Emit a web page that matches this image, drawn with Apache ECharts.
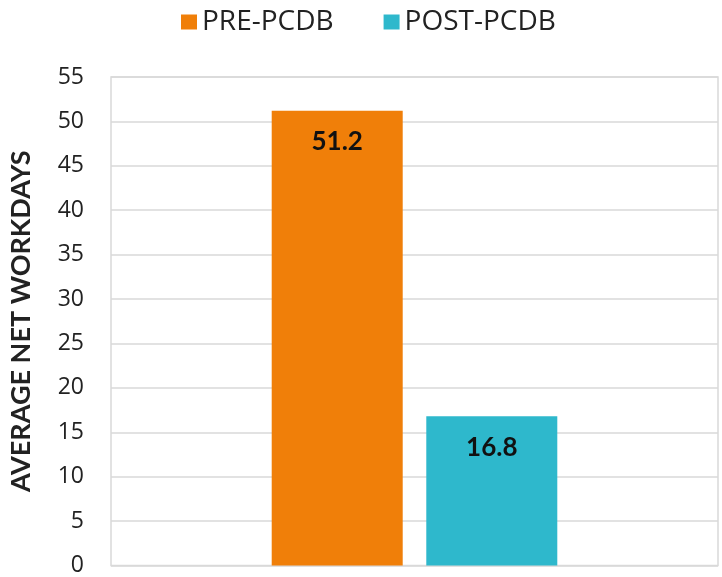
<!DOCTYPE html>
<html><head><meta charset="utf-8">
<script src="https://cdn.jsdelivr.net/npm/echarts@6/dist/echarts.min.js"></script>
<style>html,body{margin:0;padding:0;background:#fff}#c{width:722px;height:577px}</style>
</head><body><div id="c"></div>
<script>
const categories = ['Average'];
const seriesNames = ['PRE-PCDB', 'POST-PCDB'];
const preValues = [51.2];
const postValues = [16.8];
const yTicks = {min: 0, max: 55, interval: 5};

const chart = echarts.init(document.getElementById('c'));
const labelStyle = {show: true, position: 'insideTop', distance: 18, fontFamily: 'Lato', fontWeight: 'bold', fontSize: 26, color: '#111'};
chart.setOption({
  animation: false,
  legend: {
    top: 3, left: 176, itemWidth: 16, itemHeight: 15, itemGap: 50,
    icon: 'rect',
    textStyle: {fontFamily: 'Open Sans', fontSize: 28, color: '#222', padding: [0,0,0,0]},
    data: seriesNames
  },
  grid: {left: 111, right: 4, top: 77, bottom: 9, show: true, borderColor: '#d9d9d9', borderWidth: 1.5},
  xAxis: {type: 'category', data: categories, axisLine: {show: false}, axisTick: {show: false}, axisLabel: {show: false}},
  yAxis: {
    type: 'value', min: yTicks.min, max: yTicks.max, interval: yTicks.interval,
    name: 'AVERAGE NET WORKDAYS', nameLocation: 'middle', nameGap: 76,
    nameTextStyle: {fontFamily: 'Lato', fontWeight: 'bold', fontSize: 27, color: '#222'},
    axisLabel: {fontFamily: 'Open Sans', fontSize: 23, color: '#222', margin: 27},
    splitLine: {lineStyle: {color: '#d9d9d9', width: 1.5}},
    axisLine: {show: false}, axisTick: {show: false}
  },
  series: [
    {name: seriesNames[0], type: 'bar', data: preValues, barWidth: 131, barGap: '18%', itemStyle: {color: '#F07F09'}, label: labelStyle},
    {name: seriesNames[1], type: 'bar', data: postValues, barWidth: 131, itemStyle: {color: '#2EB8CC'}, label: labelStyle}
  ]
});
</script></body></html>
